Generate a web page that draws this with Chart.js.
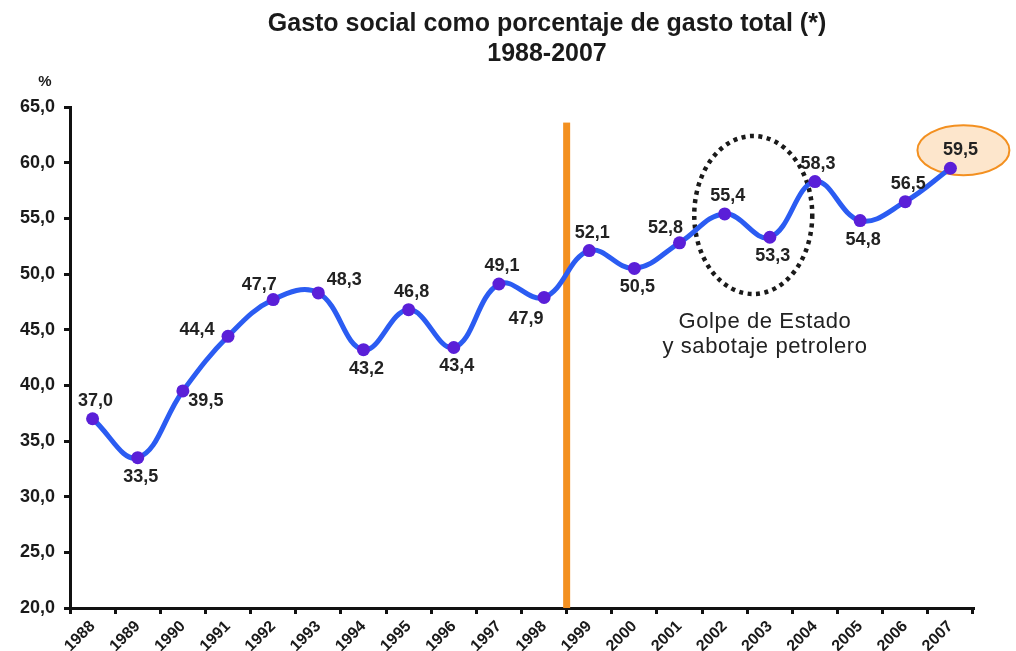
<!DOCTYPE html>
<html>
<head>
<meta charset="utf-8">
<script src="https://cdn.jsdelivr.net/npm/chart.js@4.4.1/dist/chart.umd.min.js"></script>
<style>
  html, body { margin: 0; padding: 0; background: #fff; }
  #wrap { width: 1016px; height: 651px; }
</style>
</head>
<body>
<div id="wrap"><canvas id="lineChart" width="1016" height="651"></canvas></div>
<script>
var years = ["1988", "1989", "1990", "1991", "1992", "1993", "1994", "1995", "1996", "1997",
             "1998", "1999", "2000", "2001", "2002", "2003", "2004", "2005", "2006", "2007"];
var gastoSocial = [37.0, 33.5, 39.5, 44.4, 47.7, 48.3, 43.2, 46.8, 43.4, 49.1,
                   47.9, 52.1, 50.5, 52.8, 55.4, 53.3, 58.3, 54.8, 56.5, 59.5];
var titleLines = ["Gasto social como porcentaje de gasto total (*)", "1988-2007"];
var noteLines = ["Golpe de Estado", "y sabotaje petrolero"];

// where each value label sits around its point
var labelPlace = ["a", "b", "r", "l", "al", "ar", "b", "a", "b", "a",
                  "bl", "a", "b", "al", "a", "b", "a", "b", "a", "a"];
var placeOffset = {
    a: [3, -18], b: [3, 19], r: [23, 10], l: [-31, -6],
    al: [-14, -15], ar: [26, -13], bl: [-18, 22]
};

var fontName = "'Liberation Sans', Arial, Helvetica, sans-serif";
var fmt = function (v) { return v.toFixed(1).replace(".", ","); };

var extras = {
    id: "extras",
    beforeDatasetsDraw: function (chart) {
        var ctx = chart.ctx, x = chart.scales.x, y = chart.scales.y;
        ctx.save();
        // orange separator between 1998 and 1999
        var xs = (x.getPixelForValue(10) + x.getPixelForValue(11)) / 2;
        ctx.fillStyle = "#f39020";
        ctx.fillRect(xs - 3.5, y.getPixelForValue(63.6), 7, y.bottom - y.getPixelForValue(63.6));

        // dotted ellipse around 2002-2003
        var cx = (x.getPixelForValue(14) + x.getPixelForValue(15)) / 2 + 6;
        var cy = y.getPixelForValue(55.3);
        ctx.beginPath();
        ctx.ellipse(cx, cy, 59, 79, 0, 0, Math.PI * 2);
        ctx.setLineDash([4, 4.5]);
        ctx.lineWidth = 4.5;
        ctx.strokeStyle = "#1a1a1a";
        ctx.stroke();
        ctx.setLineDash([]);

        // highlight behind 2007 label
        var px = x.getPixelForValue(19) + 13;
        var py = y.getPixelForValue(gastoSocial[19]) - 18;
        ctx.beginPath();
        ctx.ellipse(px, py, 46, 25, 0, 0, Math.PI * 2);
        ctx.fillStyle = "#fde6cc";
        ctx.fill();
        ctx.lineWidth = 2;
        ctx.strokeStyle = "#f39020";
        ctx.stroke();
        ctx.restore();
    },
    afterDatasetsDraw: function (chart) {
        var ctx = chart.ctx, x = chart.scales.x, y = chart.scales.y;
        ctx.save();
        ctx.fillStyle = "#222";
        ctx.textAlign = "center";
        ctx.textBaseline = "middle";
        ctx.font = "bold 18px " + fontName;
        gastoSocial.forEach(function (v, i) {
            var off = placeOffset[labelPlace[i]];
            var dx = labelPlace[i] === "a" && i === 19 ? 10 : off[0];
            ctx.fillText(fmt(v), x.getPixelForValue(i) + dx, y.getPixelForValue(v) + off[1]);
        });

        // title
        ctx.fillStyle = "#1a1a1a";
        ctx.font = "bold 25px " + fontName;
        ctx.fillText(titleLines[0], 547, 24);
        ctx.fillText(titleLines[1], 547, 54);

        // unit
        ctx.font = "bold 15px " + fontName;
        ctx.fillText("%", 45, 82);

        // note
        ctx.font = "22px " + fontName;
        ctx.letterSpacing = "0.6px";
        ctx.fillStyle = "#222";
        ctx.fillText(noteLines[0], 765, 322);
        ctx.fillText(noteLines[1], 765, 347);
        ctx.restore();
    }
};

var ctx1 = document.getElementById("lineChart").getContext("2d");
new Chart(ctx1, {
    type: "line",
    data: {
        labels: years,
        datasets: [{
            data: gastoSocial,
            borderColor: "#2b5cf2",
            borderWidth: 5,
            tension: 0.4,
            pointRadius: 6.5,
            pointBackgroundColor: "#5a1fd8",
            pointBorderWidth: 0,
            pointHoverRadius: 6.5
        }]
    },
    options: {
        responsive: false,
        animation: false,
        layout: { padding: { top: 107, right: 43, left: 0, bottom: 0 } },
        plugins: {
            legend: { display: false },
            tooltip: { enabled: false }
        },
        scales: {
            x: {
                offset: true,
                grid: {
                    offset: true,
                    drawOnChartArea: false,
                    color: "#111",
                    lineWidth: 3,
                    tickLength: 6
                },
                border: { color: "#111", width: 3 },
                ticks: {
                    color: "#1a1a1a",
                    font: { family: fontName, size: 16, weight: "bold" },
                    minRotation: 45,
                    maxRotation: 45,
                    padding: 3,
                    autoSkip: false
                },
                afterFit: function (s) { s.height = 43; }
            },
            y: {
                min: 20,
                max: 65,
                grid: {
                    drawOnChartArea: false,
                    color: "#111",
                    lineWidth: 3,
                    tickLength: 6
                },
                border: { color: "#111", width: 3 },
                ticks: {
                    stepSize: 5,
                    color: "#1a1a1a",
                    padding: 9,
                    font: { family: fontName, size: 18, weight: "bold" },
                    callback: function (v) { return fmt(v); }
                },
                afterFit: function (s) { s.width = 70; }
            }
        }
    },
    plugins: [extras]
});
</script>
</body>
</html>
